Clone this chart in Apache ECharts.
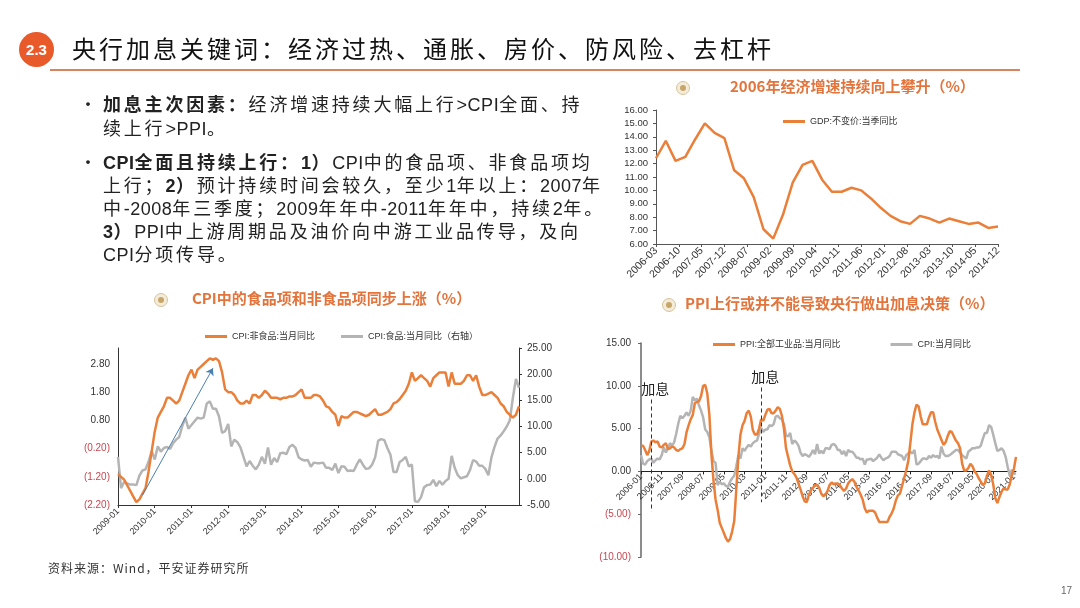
<!DOCTYPE html>
<html>
<head>
<meta charset="utf-8">
<script src="https://cdn.jsdelivr.net/npm/echarts@6/dist/echarts.min.js"></script>
<style>
html, body { margin: 0; padding: 0; background: #fff; }
#page { position: relative; width: 1080px; height: 608px; overflow: hidden; font-family: "Noto Sans CJK SC", sans-serif; color: #222; }
#chart { position: absolute; left: 0; top: 0; width: 1080px; height: 608px; }
.badge { position: absolute; left: 19px; top: 32px; width: 35px; height: 35px; border-radius: 50%; background: #e85a2a; color: #fff; font: bold 15px "Liberation Sans", Arial, sans-serif; line-height: 35px; text-align: center; }
.head { position: absolute; left: 72px; top: 32px; font-size: 24px; letter-spacing: 3px; line-height: 32px; color: #111; white-space: nowrap; }
.rule { position: absolute; left: 50px; top: 69px; width: 970px; height: 2px; background: #d9835f; }
.ln { position: absolute; left: 103px; font-size: 18px; letter-spacing: 2.8px; line-height: 22px; white-space: nowrap; color: #222; }
.ln i { font-style: normal; letter-spacing: 0.5px; font-family: "Liberation Sans Narrow", "Liberation Sans", sans-serif; }
.dot { position: absolute; left: 79px; font-size: 18px; line-height: 22px; }
.ln b { font-weight: bold; }
.src { position: absolute; left: 48px; top: 559px; font-size: 12px; letter-spacing: 1px; color: #333; }
.pg { position: absolute; left: 1061px; top: 585px; font: 10px "Liberation Sans", Arial, sans-serif; color: #666; }
</style>
</head>
<body>
<div id="page">
  <div id="chart"></div>
  <div class="badge">2.3</div>
  <div class="head">央行加息关键词：经济过热、通胀、房价、防风险、去杠杆</div>
  <div class="rule"></div>
  <div class="dot" style="top:92px">•</div>
  <div class="ln" style="top:92px"><b>加息主次因素：</b>经济增速持续大幅上行<i>&gt;CPI</i>全面、持</div>
  <div class="ln" style="top:116px">续上行<i>&gt;PPI</i>。</div>
  <div class="dot" style="top:150px">•</div>
  <div class="ln" style="top:150px"><b><i>CPI</i>全面且持续上行：<i>1</i>）</b><i>CPI</i>中的食品项、非食品项均</div>
  <div class="ln" style="top:173px">上行；<b><i>2</i>）</b>预计持续时间会较久，至少<i>1</i>年以上：<i>2007</i>年</div>
  <div class="ln" style="top:196px">中<i>-2008</i>年三季度；<i>2009</i>年年中<i>-2011</i>年年中，持续<i>2</i>年。</div>
  <div class="ln" style="top:219px"><b><i>3</i>）</b><i>PPI</i>中上游周期品及油价向中游工业品传导，及向</div>
  <div class="ln" style="top:242px"><i>CPI</i>分项传导。</div>
  <div class="src">资料来源：Wind，平安证券研究所</div>
  <div class="pg">17</div>
</div>
<script>
// 月份类目
function monthRange(y0, m0, y1, m1) {
  var out = [];
  for (var y = y0, m = m0; y < y1 || (y === y1 && m <= m1); m++) {
    if (m > 12) { m = 1; y++; if (y > y1) break; }
    out.push(y + '-' + (m < 10 ? '0' + m : m));
  }
  return out;
}

// 图1：GDP 当季同比（季度）
var gdpMonths = monthRange(2006, 3, 2014, 12);
var gdpQuarterly = [12.4, 13.7, 12.2, 12.5, 13.8, 15.0, 14.3, 13.9,
  11.5, 10.9, 9.5, 7.1, 6.4, 8.2, 10.6, 11.9,
  12.2, 10.8, 9.9, 9.9, 10.2, 10.0, 9.4, 8.7,
  8.1, 7.7, 7.5, 8.1, 7.9, 7.6, 7.9, 7.7,
  7.5, 7.6, 7.2, 7.3];

// 图2：CPI 非食品 / 食品（月度）
var cpiMonths = monthRange(2009, 1, 2019, 12);
var nonFood = [
  -1.1, -1.2, -1.3, -1.5, -1.7, -1.9, -2.1, -2.0, -1.8, -1.6, -1.0, -0.3,
  0.4, 0.9, 1.1, 1.3, 1.6, 1.6, 1.5, 1.4, 1.5, 1.8, 2.1, 2.4,
  2.6, 2.3, 2.6, 2.7, 2.8, 2.9, 3.0, 2.95, 3.0, 2.9, 2.5, 1.9,
  1.8, 1.8, 1.7, 1.5, 1.4, 1.4, 1.5, 1.4, 1.7, 1.7, 1.6, 1.7,
  1.85, 1.75, 1.6, 1.6, 1.6, 1.55, 1.6, 1.6, 1.65, 1.65, 1.7, 1.8,
  1.9, 1.6, 1.6, 1.6, 1.7, 1.7, 1.65, 1.5, 1.3, 1.25, 1.1, 1.0,
  0.6, 0.95, 0.9, 0.9, 1.0, 1.1, 1.1, 1.05, 1.0, 0.95, 1.0, 1.1,
  1.2, 1.0, 1.0, 1.05, 1.1, 1.2, 1.4, 1.45, 1.55, 1.7, 1.85, 2.1,
  2.5, 2.2, 2.3, 2.4, 2.3, 2.2, 2.0, 2.3, 2.4, 2.5, 2.5, 2.5,
  2.0, 2.5, 2.1, 2.1, 2.1, 2.2, 2.4, 2.4, 2.2, 2.4, 2.0, 1.7,
  1.7, 1.75, 1.8, 1.7, 1.6, 1.4, 1.3, 1.1, 1.0, 0.9, 1.0, 1.3];
var food = [
  4.2, -1.8, -0.6, -0.9, -1.1, -1.1, -1.2, 0.6, 1.6, 1.8, 3.3, 5.3,
  3.7, 6.2, 5.2, 5.9, 6.1, 5.7, 6.8, 7.5, 8.0, 10.1, 11.7, 9.6,
  10.3, 11.0, 11.7, 11.5, 11.7, 14.4, 14.8, 13.4, 13.4, 11.9, 8.8, 9.1,
  10.5, 6.2, 7.5, 7.0, 6.0, 4.2, 2.4, 3.4, 2.5, 1.8, 2.7, 4.2,
  2.9, 6.0, 2.7, 4.0, 3.2, 4.9, 5.0, 4.7, 6.1, 6.5, 5.9, 4.1,
  3.7, 3.5, 3.6, 2.3, 3.1, 3.0, 3.0, 3.1, 2.1, 2.1, 1.7, 2.9,
  1.1, 2.4, 2.3, 1.5, 1.6, 1.5, 2.7, 3.7, 2.7, 1.9, 2.0, 2.7,
  4.1, 7.3, 7.6, 7.4, 5.9, 4.6, 1.3, 1.3, 3.2, 3.6, 4.2, 2.4,
  2.7, -4.3, -4.4, -3.5, -1.6, -1.2, -1.1, -0.2, -1.4, -0.4, -1.1, -0.4,
  0.0, 4.4, 2.1, 0.7, 0.1, 0.3, 0.5, 1.7, 3.6, 3.3, 2.5, 2.5,
  1.9, 0.7, 4.1, 6.1, 7.7, 8.3, 9.1, 10.0, 11.2, 15.5, 19.1, 17.4];

// 图3：PPI / CPI（月度）
var ppiMonths = monthRange(2006, 1, 2021, 2);
var ppi = [
  3.0, 3.0, 2.5, 1.9, 2.4, 3.5, 3.6, 3.4, 3.5, 2.9, 2.8, 3.1,
  3.3, 2.6, 2.7, 2.9, 2.8, 2.5, 2.4, 2.6, 2.7, 3.2, 4.6, 5.4,
  6.1, 6.6, 8.0, 8.1, 8.2, 8.8, 10.0, 10.1, 9.1, 6.6, 2.0, -1.1,
  -3.3, -4.5, -6.0, -6.6, -7.2, -7.8, -8.2, -7.9, -7.0, -5.8, -2.1, 1.7,
  4.3, 5.4, 5.9, 6.8, 7.1, 6.4, 4.8, 4.3, 4.3, 5.0, 6.1, 5.9,
  6.6, 7.2, 7.3, 6.8, 6.8, 7.1, 7.5, 7.3, 6.5, 5.0, 2.7, 1.7,
  0.7, 0.0, -0.3, -0.7, -1.4, -2.1, -2.9, -3.5, -3.6, -2.8, -2.2, -1.9,
  -1.6, -1.6, -1.9, -2.6, -2.9, -2.7, -2.3, -1.6, -1.3, -1.5, -1.4, -1.4,
  -1.6, -2.0, -2.3, -2.0, -1.4, -1.1, -0.9, -1.2, -1.8, -2.2, -2.7, -3.3,
  -4.3, -4.8, -4.6, -4.6, -4.6, -4.8, -5.4, -5.9, -5.9, -5.9, -5.9, -5.9,
  -5.3, -4.9, -4.3, -3.4, -2.8, -2.6, -1.7, -0.8, 0.1, 1.2, 3.3, 5.5,
  6.9, 7.8, 7.6, 6.4, 5.5, 5.5, 5.5, 6.3, 6.9, 6.9, 5.8, 4.9,
  4.3, 3.7, 3.1, 3.4, 4.1, 4.7, 4.6, 4.1, 3.6, 3.3, 2.7, 0.9,
  0.1, 0.1, 0.4, 0.9, 0.6, 0.0, -0.3, -0.8, -1.2, -1.6, -1.4, -0.5,
  0.1, -0.4, -1.5, -3.1, -3.7, -3.0, -2.4, -2.0, -2.1, -2.1, -1.5, -0.4,
  0.3, 1.7];
var cpi = [
  1.9, 0.9, 0.8, 1.2, 1.4, 1.5, 1.0, 1.3, 1.5, 1.4, 1.9, 2.8,
  2.2, 2.7, 3.3, 3.0, 3.4, 4.4, 5.6, 6.5, 6.2, 6.5, 6.9, 6.5,
  7.1, 8.7, 8.3, 8.5, 7.7, 7.1, 6.3, 4.9, 4.6, 4.0, 2.4, 1.2,
  1.0, -1.6, -1.2, -1.5, -1.4, -1.7, -1.8, -1.2, -0.8, -0.5, 0.6, 1.9,
  1.5, 2.7, 2.4, 2.8, 3.1, 2.9, 3.3, 3.5, 3.6, 4.4, 5.1, 4.6,
  4.9, 4.9, 5.4, 5.3, 5.5, 6.4, 6.5, 6.2, 6.1, 5.5, 4.2, 4.1,
  4.5, 3.2, 3.6, 3.4, 3.0, 2.2, 1.8, 2.0, 1.9, 1.7, 2.0, 2.5,
  2.0, 3.2, 2.1, 2.4, 2.1, 2.7, 2.7, 2.6, 3.1, 3.2, 3.0, 2.5,
  2.5, 2.0, 2.4, 1.8, 2.5, 2.3, 2.3, 2.0, 1.6, 1.6, 1.4, 1.5,
  0.8, 1.4, 1.4, 1.5, 1.2, 1.4, 1.6, 2.0, 1.6, 1.3, 1.5, 1.6,
  1.8, 2.3, 2.3, 2.3, 2.0, 1.9, 1.8, 1.3, 1.9, 2.1, 2.3, 2.1,
  2.5, 0.8, 0.9, 1.2, 1.5, 1.5, 1.4, 1.8, 1.6, 1.9, 1.7, 1.8,
  1.5, 2.9, 2.1, 1.8, 1.8, 1.9, 2.1, 2.3, 2.5, 2.5, 2.2, 1.9,
  1.7, 1.5, 2.3, 2.5, 2.7, 2.7, 2.8, 2.8, 3.0, 3.8, 4.5, 4.5,
  5.4, 5.2, 4.3, 3.3, 2.4, 2.5, 2.7, 2.4, 1.7, 0.5, -0.5, 0.2,
  -0.3, -0.2];
var hikeMonths = ['2006-06', '2010-11'];

// 季度数据放到月度类目上
var gdpSeries = gdpMonths.map(function () { return null; });
gdpQuarterly.forEach(function (v, i) { gdpSeries[i * 3] = v; });

var ORANGE = '#ea7f3a', GREY = '#b4b4b4', NEG = '#c8464f';
var latin = '"Liberation Sans", Arial, "Noto Sans CJK SC", sans-serif';

// 图3 的 x 轴放在 0 值处
var gridC = { left: 641, top: 343, width: 375, height: 214 };
var yC = { min: -10, max: 15 };
var zeroOffset = -gridC.height * (0 - yC.min) / (yC.max - yC.min);

function paren(v) {
  return v < 0 ? '{n|(' + Math.abs(v).toFixed(2) + ')}' : v.toFixed(2);
}
function iconAt(cx, cy) {
  return [
    { type: 'circle', shape: { cx: cx, cy: cy, r: 6.5 }, style: { fill: '#f4ecd9', stroke: '#d5c39c', lineWidth: 1 } },
    { type: 'circle', shape: { cx: cx, cy: cy, r: 3 }, style: { fill: '#c6a66a' } }
  ];
}
var titleStyle = { fontSize: 15, fontWeight: 'bold', color: '#e2743c', fontFamily: '"Noto Sans CJK SC", sans-serif' };
var axisText = { color: '#333', fontFamily: latin };
var legendText = { fontSize: 9, color: '#333', fontFamily: latin };

var chart = echarts.init(document.getElementById('chart'), null, { renderer: 'canvas' });
chart.setOption({
  animation: false,
  backgroundColor: 'transparent',
  title: [
    { text: '2006年经济增速持续向上攀升（%）', left: 730, top: 79, padding: 0, textStyle: titleStyle },
    { text: 'CPI中的食品项和非食品项同步上涨（%）', left: 192, top: 291, padding: 0, textStyle: titleStyle },
    { text: 'PPI上行或并不能导致央行做出加息决策（%）', left: 685, top: 296, padding: 0, textStyle: titleStyle }
  ],
  graphic: [].concat(iconAt(683, 88), iconAt(161, 300), iconAt(669, 305)),
  legend: [
    { data: ['GDP:不变价:当季同比'], left: 783, top: 117, padding: 0, icon: 'rect',
      itemWidth: 22, itemHeight: 3, textStyle: legendText },
    { data: ['CPI:非食品:当月同比', 'CPI:食品:当月同比（右轴）'], left: 205, top: 332, padding: 0, itemGap: 26,
      icon: 'rect', itemWidth: 22, itemHeight: 3, textStyle: legendText },
    { data: ['PPI:全部工业品:当月同比', 'CPI:当月同比'], left: 713, top: 340, padding: 0, itemGap: 50,
      icon: 'rect', itemWidth: 22, itemHeight: 3, textStyle: legendText }
  ],
  grid: [
    { left: 656, top: 110, width: 342, height: 134 },
    { left: 118, top: 348, width: 401, height: 157 },
    gridC
  ],
  xAxis: [
    { gridIndex: 0, type: 'category', data: gdpMonths, boundaryGap: false,
      axisLine: { lineStyle: { color: '#555' } },
      axisTick: { interval: 6, length: 3, lineStyle: { color: '#555' } },
      axisLabel: Object.assign({ interval: 6, rotate: 45, fontSize: 10.5, margin: 5 }, axisText) },
    { gridIndex: 1, type: 'category', data: cpiMonths, boundaryGap: false,
      axisLine: { onZero: false, lineStyle: { color: '#333' } },
      axisTick: { interval: 11, length: 3, lineStyle: { color: '#333' } },
      axisLabel: Object.assign({ interval: 11, rotate: 45, fontSize: 9, margin: 5 }, axisText) },
    { gridIndex: 2, type: 'category', data: ppiMonths, boundaryGap: false, offset: zeroOffset,
      axisLine: { onZero: false, lineStyle: { color: '#222' } },
      axisTick: { interval: 9, length: 3, lineStyle: { color: '#222' } },
      axisLabel: Object.assign({ interval: 9, rotate: 45, fontSize: 9, margin: 4 }, axisText) }
  ],
  yAxis: [
    { gridIndex: 0, type: 'value', min: 6, max: 16, interval: 1,
      splitLine: { show: false },
      axisLine: { show: true, lineStyle: { color: '#555' } },
      axisTick: { show: true, length: 3, lineStyle: { color: '#555' } },
      axisLabel: Object.assign({ fontSize: 9.5, margin: 8, formatter: function (v) { return v.toFixed(2); } }, axisText) },
    { gridIndex: 1, type: 'value', min: -2.2, max: 3.367, interval: 1,
      splitLine: { show: false },
      axisLine: { show: true, lineStyle: { color: '#333' } },
      axisTick: { show: false },
      axisLabel: Object.assign({ fontSize: 10, margin: 8, showMaxLabel: false, formatter: paren,
        rich: { n: { color: NEG, fontSize: 10, fontFamily: latin } } }, axisText) },
    { gridIndex: 1, type: 'value', position: 'right', min: -5, max: 25, interval: 5,
      splitLine: { show: false },
      axisLine: { show: true, lineStyle: { color: '#333' } },
      axisTick: { show: true, length: 3, lineStyle: { color: '#333' } },
      axisLabel: Object.assign({ fontSize: 10, margin: 8, formatter: function (v) { return v.toFixed(2); } }, axisText) },
    { gridIndex: 2, type: 'value', min: yC.min, max: yC.max, interval: 5,
      splitLine: { show: false },
      axisLine: { show: true, lineStyle: { color: '#666', width: 1.5 } },
      axisTick: { show: true, length: 3, lineStyle: { color: '#666' } },
      axisLabel: Object.assign({ fontSize: 10, margin: 10, formatter: paren,
        rich: { n: { color: NEG, fontSize: 10, fontFamily: latin } } }, axisText) }
  ],
  series: [
    { name: 'GDP:不变价:当季同比', type: 'line', xAxisIndex: 0, yAxisIndex: 0, data: gdpSeries,
      connectNulls: true, symbol: 'none', lineStyle: { color: ORANGE, width: 2.5 }, itemStyle: { color: ORANGE } },
    { name: 'CPI:非食品:当月同比', type: 'line', xAxisIndex: 1, yAxisIndex: 1, data: nonFood, z: 3,
      symbol: 'none', lineStyle: { color: ORANGE, width: 2.5 }, itemStyle: { color: ORANGE },
      markLine: { silent: true, symbol: ['none', 'arrow'], symbolSize: 7,
        lineStyle: { color: '#4a7fae', width: 1, type: 'solid' }, label: { show: false },
        data: [[{ coord: ['2009-09', -1.85] }, { coord: ['2011-08', 2.65] }]] } },
    { name: 'CPI:食品:当月同比（右轴）', type: 'line', xAxisIndex: 1, yAxisIndex: 2, data: food, z: 2,
      symbol: 'none', lineStyle: { color: GREY, width: 2.5 }, itemStyle: { color: GREY } },
    { name: 'PPI:全部工业品:当月同比', type: 'line', xAxisIndex: 2, yAxisIndex: 3, data: ppi, z: 3,
      symbol: 'none', lineStyle: { color: ORANGE, width: 2.5 }, itemStyle: { color: ORANGE },
      markLine: { silent: true, symbol: 'none',
        lineStyle: { color: '#333', width: 1, type: [4, 3] },
        label: { show: true, position: 'start', formatter: '加息', fontSize: 14, color: '#222', distance: 4,
          offset: [4, 0], fontFamily: '"Noto Sans CJK SC", sans-serif' },
        data: [
          [{ coord: [hikeMonths[0], 8.4] }, { coord: [hikeMonths[0], -4.7] }],
          [{ coord: [hikeMonths[1], 9.8] }, { coord: [hikeMonths[1], -3.6] }]
        ] } },
    { name: 'CPI:当月同比', type: 'line', xAxisIndex: 2, yAxisIndex: 3, data: cpi, z: 2,
      symbol: 'none', lineStyle: { color: GREY, width: 2.5 }, itemStyle: { color: GREY } }
  ]
});
window.onresize = function () { chart.resize(); };
</script>
</body>
</html>
